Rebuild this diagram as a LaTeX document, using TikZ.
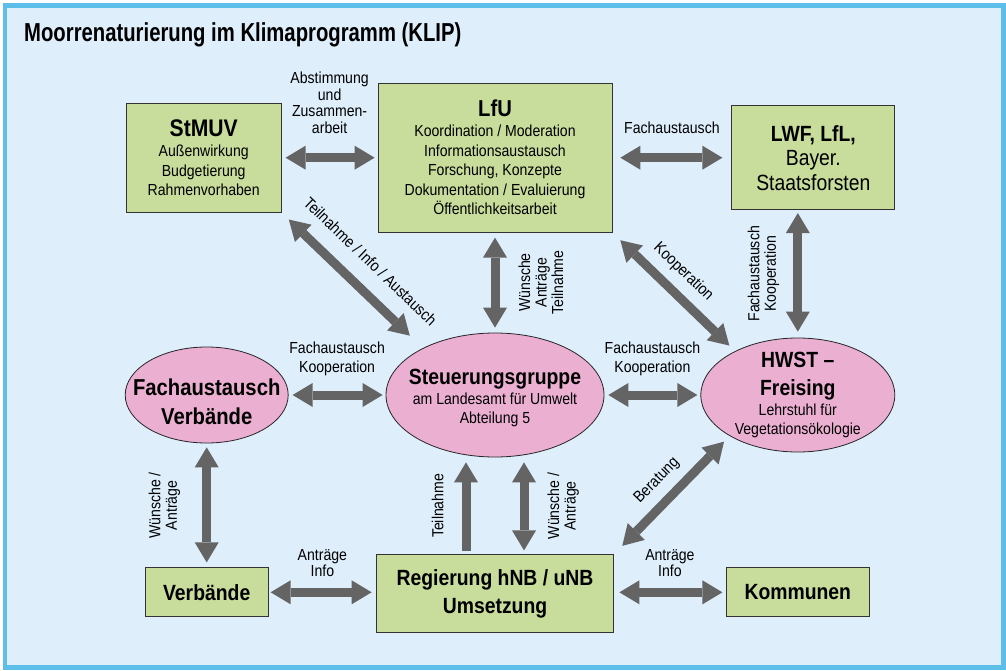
\documentclass[tikz,border=0pt]{standalone}
\usepackage{fontspec}
\setmainfont{Liberation Sans}[FakeStretch=0.88]
\newfontfamily\titlefont{Liberation Sans}[FakeStretch=0.78]
\usetikzlibrary{arrows.meta,positioning,shapes.geometric}

\definecolor{framebg}{HTML}{DEEEFB}
\definecolor{frameline}{HTML}{5EBEEA}
\definecolor{boxgreen}{HTML}{C8DC9B}
\definecolor{ovalpink}{HTML}{EBAFD2}
\definecolor{arrowgray}{HTML}{646464}

\newcommand{\bodyfont}{\fontsize{16}{19.5}\selectfont\lineskiplimit=-20pt}
\newcommand{\headfont}{\fontsize{22}{22}\selectfont\bfseries}
\newcommand{\lblfont}{\fontsize{16}{16.5}\selectfont\lineskiplimit=-20pt}

\begin{document}
\begin{tikzpicture}[
  x=1pt, y=-1pt,
  box/.style={draw=black!80,line width=0.8pt,fill=boxgreen,inner sep=0pt,
              align=center,font=\bodyfont},
  oval/.style={ellipse,draw=black!85,line width=0.8pt,fill=ovalpink,
               inner sep=-20pt,align=center,font=\bodyfont},
  arr/.style={line width=9pt,draw=arrowgray},
  lbl/.style={font=\lblfont,align=center,inner sep=0pt},
  >={Triangle[width=24pt,length=20pt,line width=0pt]}
]
\useasboundingbox (0,0) rectangle (1006,671);
\fill[white] (0,0) rectangle (1006,671);
\draw[frameline,line width=4.5pt,fill=framebg] (4.8,5.3) rectangle (1003.5,667.5);

\node[anchor=base west,inner sep=0pt,
      font=\titlefont\fontsize{26}{26}\selectfont\bfseries] (title) at (24,42)
      {Moorrenaturierung im Klimaprogramm (KLIP)};

% middle row
\node[oval,minimum width=218pt,minimum height=124pt] (steuer) at (495,395)
      {\rule{0pt}{22pt}{\headfont Steuerungsgruppe}\\am Landesamt für Umwelt\\Abteilung 5};
\node[oval,minimum width=163pt,minimum height=96pt,left=97pt of steuer,
      font={\fontsize{23}{29}\selectfont\bfseries}] (fverb)
      {\rule{0pt}{31pt}Fachaustausch\\Verbände};
\node[oval,minimum width=194pt,minimum height=114pt,right=96pt of steuer] (hwst)
      {{\headfont HWST –}\\[8.5pt]{\headfont Freising}\\Lehrstuhl für\\Vegetationsökologie};

% top row
\node[box,minimum width=234pt,minimum height=149pt,above=100pt of steuer] (lfu)
      {{\fontsize{23}{23}\selectfont\bfseries LfU}\\[0.5pt]Koordination / Moderation\\Informationsaustausch\\
       Forschung, Konzepte\\Dokumentation / Evaluierung\\Öffentlichkeitsarbeit};
\node[box,minimum width=155pt,minimum height=109pt,left=96pt of lfu] (stmuv)
      {{\fontsize{24}{24}\selectfont\bfseries StMUV}\\[1pt]Außenwirkung\\Budgetierung\\Rahmenvorhaben};
\node[box,minimum width=163pt,minimum height=104pt,right=119pt of lfu,
      font={\fontsize{22}{24.5}\selectfont}] (lwf) {\textbf{LWF, LfL,}\\Bayer.\\Staatsforsten};

% bottom row
\node[box,minimum width=237pt,minimum height=78pt,below=97pt of steuer,
      font={\fontsize{22}{28}\selectfont\bfseries}] (reg) {Regierung hNB / uNB\\Umsetzung};
\node[box,minimum width=123pt,minimum height=49pt,below=124pt of fverb,font=\headfont] (verb) {Verbände};
\node[box,minimum width=143pt,minimum height=49pt,below=115pt of hwst,font=\headfont] (komm) {Kommunen};

% arrows
\draw[arr,<->,shorten <=4pt,shorten >=3pt] (stmuv.east) --
      node[lbl,above=20pt] {Abstimmung\\und\\Zusammen-\\arbeit} (lfu.west);
\draw[arr,<->,shorten <=8pt,shorten >=9pt] (lfu.east) --
      node[lbl,above=20pt] {Fachaustausch} (lfu.east -| lwf.west);
\draw[arr,<->,shorten <=10pt,shorten >=18pt] (stmuv.south east) --
      node[lbl,sloped,above=16pt] {Teilnahme / Info / Austausch} (steuer.147);
\draw[arr,<->,shorten <=5pt,shorten >=5pt] (steuer.north) --
      node[lbl,sloped,below=19pt] {Wünsche\\Anträge\\Teilnahme} (lfu.south);
\draw[arr,<->,shorten <=11pt,shorten >=8pt] (lfu.south east) --
      node[lbl,sloped,above=9pt,pos=0.46] {Kooperation} (hwst.145);
\draw[arr,<->,shorten <=6pt,shorten >=3pt] (hwst.north) --
      node[lbl,sloped,above=14pt] {Fachaustausch\\Kooperation} (hwst.north |- lwf.south);
\draw[arr,<->,shorten <=4pt,shorten >=3pt] (fverb.east) --
      node[lbl,above=15pt] {Fachaustausch\\[2.5pt]Kooperation} (steuer.west);
\draw[arr,<->,shorten <=4pt,shorten >=3pt] (steuer.east) --
      node[lbl,above=15pt] {Fachaustausch\\[2.5pt]Kooperation} (hwst.west);
\draw[arr,<->,shorten <=5pt,shorten >=4pt] (verb.north) --
      node[lbl,sloped,above=22pt] {Wünsche /\\Anträge} (fverb.south);
\draw[arr,<->,shorten <=2pt,shorten >=4.5pt] (verb.east) --
      node[lbl,above=11pt] {Anträge\\Info} (verb.east -| reg.west);
\draw[arr,->,shorten <=3pt,shorten >=5pt] ([xshift=-29pt]reg.north) --
      node[lbl,sloped,above=18pt] {Teilnahme} ([xshift=-29pt]reg.north |- steuer.south);
\draw[arr,<->,shorten <=4pt,shorten >=5pt] ([xshift=29pt]reg.north) --
      node[lbl,sloped,below=19pt] {Wünsche /\\Anträge} ([xshift=29pt]reg.north |- steuer.south);
\draw[arr,<->,shorten <=12pt,shorten >=8pt] (reg.north east) --
      node[lbl,sloped,above=9pt] {Beratung} (hwst.211);
\draw[arr,<->,shorten <=5.5pt,shorten >=3.5pt] (reg.east |- komm.west) --
      node[lbl,above=11pt] {Anträge\\Info} (komm.west);
\end{tikzpicture}
\end{document}
